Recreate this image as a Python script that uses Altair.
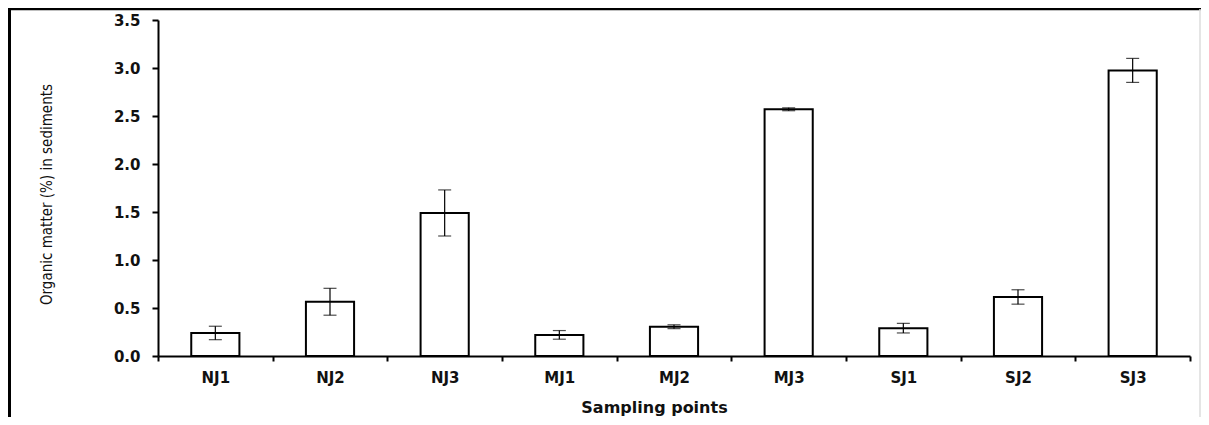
import altair as alt
import pandas as pd

sites = ["NJ1", "NJ2", "NJ3", "MJ1", "MJ2", "MJ3", "SJ1", "SJ2", "SJ3"]
means = [0.24, 0.565, 1.49, 0.22, 0.305, 2.57, 0.29, 0.615, 2.975]
errs = [0.07, 0.14, 0.24, 0.045, 0.02, 0.015, 0.05, 0.075, 0.125]
y_ticks = [0.0, 0.5, 1.0, 1.5, 2.0, 2.5, 3.0, 3.5]

df = pd.DataFrame({
    "site": sites,
    "mean": means,
    "lo": [m - e for m, e in zip(means, errs)],
    "hi": [m + e for m, e in zip(means, errs)],
})

W, H = 1032, 336

xscale = alt.Scale(domain=sites, paddingInner=0, paddingOuter=0)
yscale = alt.Scale(domain=[0, 3.5], nice=False)

x_axis = alt.Axis(
    title="Sampling points", labelAngle=0,
    labelFont="DejaVu Sans", labelFontWeight="bold", labelFontSize=15, labelColor="#111111",
    labelPadding=9,
    titleFont="DejaVu Sans", titleFontWeight="bold", titleFontSize=16, titleColor="#111111",
    titleX=496, titleY=56, titleBaseline="alphabetic", titleAlign="center",
    domainColor="black", domainWidth=2, tickColor="black", tickWidth=2, tickSize=5,
    tickBand="extent", grid=False,
)
y_axis = alt.Axis(
    title="Organic matter (%) in sediments", values=y_ticks, format=".1f",
    labelFont="DejaVu Sans", labelFontWeight="bold", labelFontSize=15, labelColor="#111111",
    labelPadding=12,
    titleFont="DejaVu Sans Condensed, Liberation Sans Narrow, sans-serif",
    titleFontWeight="normal", titleFontSize=15, titleColor="#111111",
    titleX=-112, titleY=174, titleAngle=-90, titleBaseline="middle", titleAlign="center",
    domainColor="black", domainWidth=2, tickColor="black", tickWidth=2, tickSize=6,
    grid=False,
)

base = alt.Chart(df)
X = alt.X("site:N", sort=sites, scale=xscale, axis=x_axis)

bars = base.mark_bar(
    fill="white", stroke="black", strokeWidth=2, width=alt.RelativeBandSize(0.42)
).encode(x=X, y=alt.Y("mean:Q", scale=yscale, axis=y_axis))

err = base.mark_rule(color="black", strokeWidth=1.2).encode(
    x=alt.X("site:N", sort=sites), y="lo:Q", y2="hi:Q"
)
cap_lo = base.mark_tick(color="black", thickness=1.2, size=13).encode(
    x=alt.X("site:N", sort=sites), y="lo:Q"
)
cap_hi = base.mark_tick(color="black", thickness=1.2, size=13).encode(
    x=alt.X("site:N", sort=sites), y="hi:Q"
)

one = alt.Chart(pd.DataFrame({"a": [0]}))
frame_top = one.mark_rule(color="black", strokeWidth=2.5).encode(
    x=alt.value(-150), x2=alt.value(W + 12), y=alt.value(-11)
)
frame_left = one.mark_rule(color="black", strokeWidth=3).encode(
    x=alt.value(-148.5), y=alt.value(-12), y2=alt.value(H + 80)
)
frame_right = one.mark_rule(color="#dddddd", strokeWidth=1.5).encode(
    x=alt.value(W + 10), y=alt.value(-11), y2=alt.value(H + 80)
)

chart = alt.layer(bars, err, cap_lo, cap_hi, frame_top, frame_left, frame_right).properties(
    width=W, height=H,
    autosize=alt.AutoSizeParams(type="none"),
    padding={"left": 150, "top": 12, "right": 11, "bottom": 61},
    background="white",
).configure_view(stroke=None)

chart.save("out.html", embed_options={"renderer": "svg", "actions": False})
